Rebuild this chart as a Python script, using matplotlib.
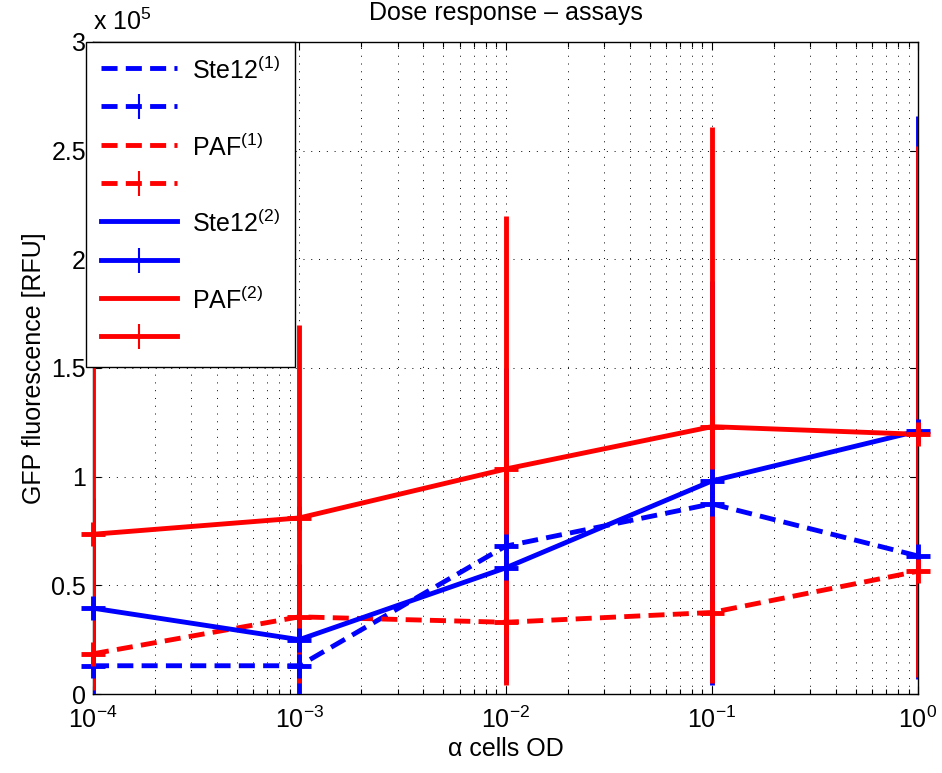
"""
Dose response of the GFP reporter assays (Ste12 / PAF, two runs).
"""

import matplotlib

matplotlib.use("Agg")

import matplotlib.pyplot as plt
from matplotlib.lines import Line2D
from matplotlib.ticker import FuncFormatter, NullLocator

plt.rcParams["font.family"] = ["Liberation Sans", "DejaVu Sans"]
plt.rcParams["mathtext.fontset"] = "custom"
plt.rcParams["mathtext.rm"] = "Liberation Sans"
plt.rcParams["mathtext.it"] = "Liberation Sans:italic"
plt.rcParams["mathtext.bf"] = "Liberation Sans:bold"

DOSE = [1e-4, 1e-3, 1e-2, 1e-1, 1e0]

STE12_1 = [13000, 13000, 68000, 87500, 63500]
PAF_1 = [18500, 35500, 33000, 37500, 56500]
STE12_2 = [39500, 25000, 58000, 98000, 121000]
PAF_2 = [73500, 81000, 103500, 123000, 119500]

# visible error bar ends (low, high) of the solid series
STE12_2_LOW = [0, 0, 5000, 4000, 6700]
STE12_2_HIGH = [90000, 60000, 150000, 190000, 266000]
PAF_2_LOW = [2000, 5000, 4000, 5000, 7600]
PAF_2_HIGH = [162000, 170000, 220000, 261000, 252000]

Y_TICKS = [0, 50000, 100000, 150000, 200000, 250000, 300000]

LABELS = ["Ste12$^{(1)}$", "", "PAF$^{(1)}$", "", "Ste12$^{(2)}$", "", "PAF$^{(2)}$", ""]

DASHED = (0, (3.3, 1.7))
LW = 3.5
FS = 18


def draw_series(ax, y, color, style, low=None, high=None):
    ax.plot(DOSE, y, color=color, linestyle=style, lw=LW, zorder=3)
    if low is not None:
        yerr = [
            [v - lo for v, lo in zip(y, low)],
            [hi - v for v, hi in zip(y, high)],
        ]
        ax.errorbar(DOSE, y, yerr=yerr, fmt="none", ecolor=color,
                    elinewidth=LW, capsize=0, zorder=3)
    ax.plot(DOSE, y, linestyle="none", marker="+", ms=17, mew=LW,
            color=color, clip_on=False, zorder=4)


def legend_handles():
    handles = []
    for color, style in [("b", DASHED), ("r", DASHED), ("b", "-"), ("r", "-")]:
        handles.append(Line2D([], [], color=color, linestyle=style, lw=LW))
        handles.append(Line2D([], [], color=color, linestyle=style, lw=LW,
                              marker="|", ms=18, mew=1.5))
    return handles


def main():
    fig = plt.figure(figsize=(9.42, 7.73), dpi=100)
    ax = fig.add_axes([93 / 942, 1 - 694 / 773, 825 / 942, 652 / 773])

    draw_series(ax, STE12_1, "b", DASHED)
    draw_series(ax, PAF_1, "r", DASHED)
    draw_series(ax, STE12_2, "b", "-", STE12_2_LOW, STE12_2_HIGH)
    draw_series(ax, PAF_2, "r", "-", PAF_2_LOW, PAF_2_HIGH)

    ax.set_xscale("log")
    ax.set_xlim(1e-4, 1)
    ax.set_ylim(0, 3e5)
    ax.set_yticks(Y_TICKS)
    ax.yaxis.set_major_formatter(FuncFormatter(lambda v, _: f"{v / 1e5:g}"))
    ax.yaxis.set_minor_locator(NullLocator())

    dots = (0, (1, 7))
    ax.grid(True, which="major", axis="both", linestyle=dots, lw=0.7, color="k")
    ax.grid(True, which="minor", axis="x", linestyle=dots, lw=0.7, color="k")
    ax.set_axisbelow(True)

    ax.tick_params(which="both", direction="in", top=True, right=True,
                   labelsize=FS, width=0.8)
    ax.tick_params(which="major", length=6)
    ax.tick_params(which="minor", length=3.5)
    ax.tick_params(axis="x", pad=9)
    ax.tick_params(axis="y", pad=5)
    for spine in ax.spines.values():
        spine.set_linewidth(1.0)

    ax.text(0, 1.01, "x 10$^{5}$", transform=ax.transAxes, ha="left",
            va="bottom", fontsize=FS)
    ax.set_title("Dose response \u2013 assays", fontsize=FS, pad=16)
    ax.set_xlabel("\u03b1 cells OD", fontsize=FS, labelpad=3)
    ax.set_ylabel("GFP fluorescence [RFU]", fontsize=FS, labelpad=4)

    legend = ax.legend(
        legend_handles(), LABELS,
        loc="upper left", bbox_to_anchor=(-7 / 825, 1.0), borderaxespad=0,
        fontsize=FS, handlelength=3.05, handleheight=1.3, handletextpad=0.6,
        labelspacing=0.44, borderpad=0.6, fancybox=False, framealpha=1,
        edgecolor="k",
    )
    legend.get_frame().set_linewidth(1.0)
    legend.set_zorder(10)

    fig.savefig("out.png", dpi=100)
    plt.close(fig)


if __name__ == "__main__":
    main()
